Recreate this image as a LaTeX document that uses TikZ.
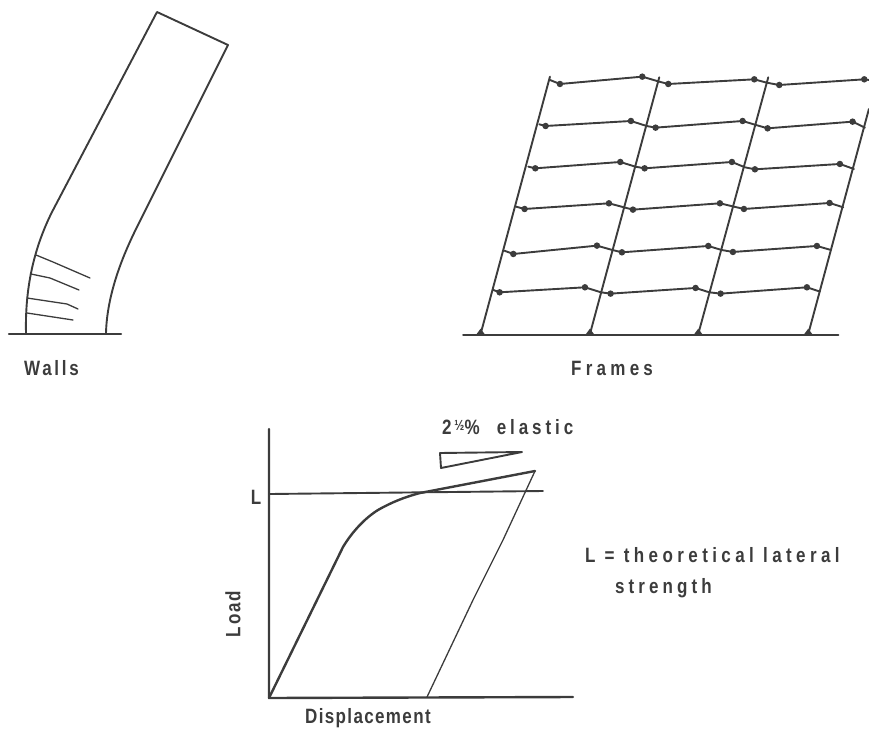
\documentclass[tikz,border=0pt]{standalone}
\usepackage{fontspec}
\setmainfont{Liberation Sans}
\definecolor{ink}{HTML}{3C3C3C}
\newfontfamily\lblWalls[LetterSpace=16]{Liberation Sans}
\newfontfamily\lblFrames[LetterSpace=25]{Liberation Sans}
\newfontfamily\lblWide[LetterSpace=26]{Liberation Sans}
\newfontfamily\lblStr[LetterSpace=24]{Liberation Sans}
\newfontfamily\lblEl[LetterSpace=23]{Liberation Sans}
\newfontfamily\lblLoad[LetterSpace=12]{Liberation Sans}
\newfontfamily\lblDisp[LetterSpace=8]{Liberation Sans}
\newcommand{\talltext}[1]{\scalebox{1}[1.22]{#1}}
\tikzset{
  heavy/.style={draw=ink,line width=2.4pt,line join=round,line cap=round},
  medium/.style={draw=ink,line width=1.9pt,line join=round,line cap=round},
  thin line/.style={draw=ink,line width=1.3pt,line join=round,line cap=round},
  hinge/.style={circle,fill=ink,inner sep=0pt,minimum size=6.5pt},
  lbl/.style={text=ink,inner sep=0pt,font=\fontsize{17}{17}\selectfont\bfseries}
}
\begin{document}
\begin{tikzpicture}[x=1pt,y=-1pt]
\useasboundingbox (0,0) rectangle (869,730);
% --- Walls
\draw[medium] (26,333) .. controls (25,290) and (33,250) .. (52,212) -- (157,12) -- (228,45) -- (137,227) .. controls (122,257) and (107,295) .. (106,333);
\draw[heavy] (9,334) -- (121,334);
\draw[thin line] (36,255) -- (53,262) -- (90,278);
\draw[thin line] (31,274) -- (50,278) -- (79,290);
\draw[thin line] (27,298) -- (67,304) -- (78,309);
\draw[thin line] (27,313) -- (73,320);
\node[lbl,anchor=west] (walls) at (24,368) {\talltext{\lblWalls Walls}};
% --- Frames
\begin{scope}[x=0.3333pt,y=-0.3333pt,shift={(1350,180)}]
\draw[medium] (92,822) -- (300,50);
\draw[medium] (420,822) -- (628,52);
\draw[medium] (745,822) -- (955,52);
\draw[medium] (1075,822) -- (1257,147);
\draw[heavy] (40,825) -- (1165,825);
\foreach \fx in {92,420,745,1075}
  \fill[ink] (\fx-14,825) -- (\fx,806) -- (\fx+14,825) -- cycle;
\foreach \ax/\ay/\bx/\by/\cx/\cy/\dx/\dy/\ex/\ey/\fx/\fy/\gx/\gy/\hx/\hy/\ix/\iy/\jx/\jy in {
 300/60/330/72/577/50/628/65/655/72/913/58/950/68/988/75/1243/58/1257/60,
 268/193/287/198/543/183/590/198/617/203/878/183/918/195/953/205/1208/185/1245/203,
 235/320/256/325/511/306/556/320/584/325/846/306/885/322/915/328/1170/312/1212/327,
 198/440/224/447/477/430/522/442/549/449/810/430/852/440/882/447/1139/429/1180/442,
 163/572/190/582/441/557/487/570/516/577/775/558/815/570/849/576/1101/558/1143/570,
 130/690/149/697/405/682/453/697/482/701/737/684/778/697/812/701/1071/682/1110/695}{
 \draw[medium] (\ax,\ay) -- (\bx,\by) node[hinge]{} -- (\cx,\cy) node[hinge]{} -- (\dx,\dy) -- (\ex,\ey) node[hinge]{} -- (\fx,\fy) node[hinge]{} -- (\gx,\gy) -- (\hx,\hy) node[hinge]{} -- (\ix,\iy) node[hinge]{} -- (\jx,\jy);
}
\end{scope}
\node[lbl,anchor=west] (frames) at (571,368) {\talltext{\lblFrames Frames}};
% --- Load-displacement graph
\coordinate (origin) at (269,698);
\coordinate (ytop) at (269,429);
\coordinate (xend) at (573,697);
\coordinate (peak) at (535,471);
\coordinate (rest) at (427,697);
\draw[heavy] (ytop) -- (origin) -- (xend);
\draw[medium] (270,494) -- (543,491);
\draw[heavy] (origin) -- (343,547) .. controls (352,532) and (365,518) .. (378,510) .. controls (392,502) and (405,497) .. (420,493) -- (peak);
\draw[thin line] (peak) -- (503,540) -- (473,600) -- (rest);
\draw[medium] (440,453) -- (522,452) -- (441,468) -- cycle;
\node[lbl,anchor=west] (elastic) at (442,427) {\talltext{\lblEl 2\,\raisebox{0.35ex}{\fontsize{12}{12}\selectfont\textonehalf}\% \ elastic}};
\node[lbl] (ll) at (256,497) {\talltext{L}};
\node[lbl,rotate=90] (load) at (233,614) {\talltext{\lblLoad Load}};
\node[lbl,anchor=west] (disp) at (305,718) {\talltext{\lblDisp Displacement}};
\node[lbl,anchor=west] (def) at (585,555) {\talltext{\lblWide L = theoretical lateral}};
\node[lbl,anchor=west] (str) at (615,588) {\talltext{\lblStr strength}};
\end{tikzpicture}
\end{document}
